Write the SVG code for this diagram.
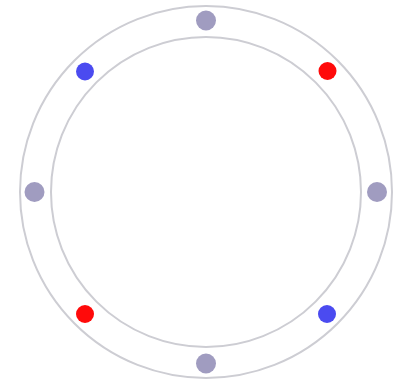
<svg xmlns="http://www.w3.org/2000/svg" width="397" height="384" viewBox="0 0 397 384">
<style>
.ring{fill:none;stroke:#cdcdd3;stroke-width:2}
.g{fill:#a09cc0}
.r{fill:#ff0a0a}
.b{fill:#4b4bf0}
</style>
<rect width="397" height="384" fill="#fff"/>
<g id="connectors">
<circle class="ring" cx="206" cy="192" r="186"/>
<circle class="ring" cx="206" cy="192" r="155"/>
</g>
<g id="n-top"><circle class="g" cx="206" cy="20.5" r="10"/></g>
<g id="n-right"><circle class="g" cx="377" cy="192" r="10"/></g>
<g id="n-bottom"><circle class="g" cx="206" cy="363.5" r="10"/></g>
<g id="n-left"><circle class="g" cx="34.5" cy="192" r="10"/></g>
<g id="n-tr"><circle class="r" cx="327.5" cy="71" r="9"/></g>
<g id="n-bl"><circle class="r" cx="85" cy="314" r="9"/></g>
<g id="n-tl"><circle class="b" cx="85" cy="71.5" r="9"/></g>
<g id="n-br"><circle class="b" cx="327" cy="314" r="9"/></g>
</svg>
